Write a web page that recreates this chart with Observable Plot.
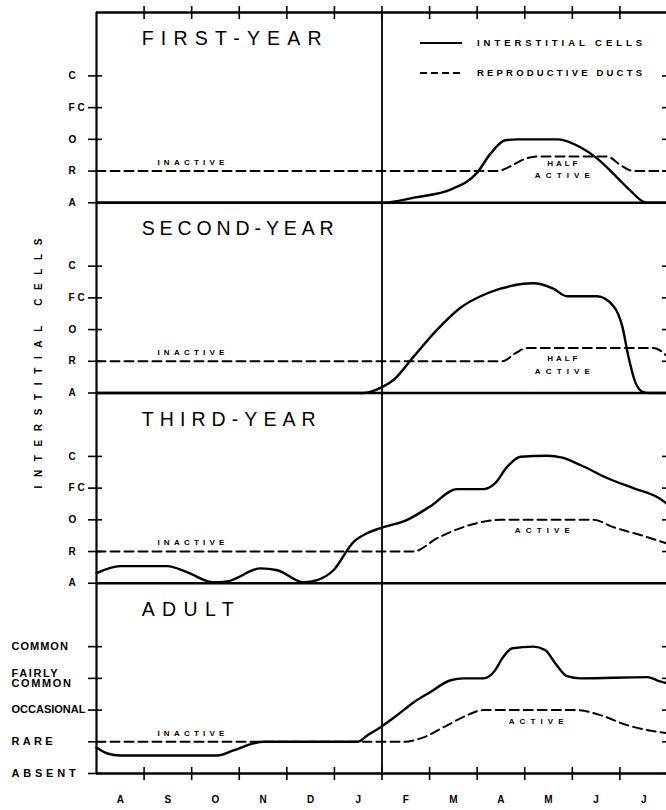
<!DOCTYPE html>
<html><head><meta charset="utf-8">
<script src="https://cdn.jsdelivr.net/npm/d3@7"></script>
<script src="https://cdn.jsdelivr.net/npm/@observablehq/plot@0.6"></script>
<style>
html,body{margin:0;padding:0;background:#fff;overflow:hidden}
#wrap{position:relative;width:666px;height:810px}
#legend{position:absolute;left:0;top:0}
</style></head><body>
<div id="wrap"></div>
<script>
// ---- data ----
const months = ["A","S","O","N","D","J","F","M","A","M","J","J"];
const panels = ["FIRST-YEAR","SECOND-YEAR","THIRD-YEAR","ADULT"];
const panelOffsets = [18, 12, 6, 0];
const levelCodes = ["A","R","O","FC","C"];
const adultLevelLabels = ["ABSENT","RARE","OCCASIONAL","FAIRLY\nCOMMON","COMMON"];
const legendLabels = ["INTERSTITIAL CELLS","REPRODUCTIVE DUCTS"];
const axisTitle = "INTERSTITIAL CELLS";

// [month since 1 Aug, level 0=absent..4=common]
const firstYearCells = [[0,0],[6,0],[6.67,0.16],[7.48,0.44],[8.0,0.95],[8.28,1.55],[8.59,1.97],[8.85,2],[9.7,2],[10.17,1.75],[10.52,1.4],[10.86,0.92],[11.22,0.38],[11.5,0.03],[11.62,0],[12,0]];
const firstYearDucts = [[0,1],[8.42,1],[8.7,1.15],[9.0,1.38],[9.26,1.46],[10.73,1.46],[11.0,1.2],[11.28,1],[12,1]];
const secondYearCells = [[0,0],[5.6,0],[5.97,0.16],[6.24,0.41],[6.66,1.14],[7.16,2.0],[7.65,2.69],[8.07,3.05],[8.49,3.29],[9.18,3.46],[9.6,3.29],[9.89,3.05],[10.52,3.05],[10.87,2.73],[11.05,2.1],[11.18,1.14],[11.32,0.35],[11.49,0.03],[11.62,0],[12,0]];
const secondYearDucts = [[0,1],[8.53,1],[8.8,1.25],[9.05,1.42],[11.7,1.42],[12,1.15]];
const thirdYearCells = [[0,0.32],[0.5,0.54],[1.49,0.54],[1.9,0.35],[2.46,0.03],[2.75,0.06],[3.45,0.47],[3.8,0.41],[4.35,0.03],[4.64,0.1],[4.98,0.41],[5.4,1.3],[5.69,1.58],[5.97,1.74],[6.53,2.0],[7.0,2.41],[7.58,2.97],[8.13,2.97],[8.38,3.16],[8.63,3.67],[8.91,3.99],[9.47,4.02],[9.79,3.96],[10.17,3.73],[10.73,3.32],[11.28,3.0],[11.78,2.72],[12,2.5]];
const thirdYearDucts = [[0,1],[6.66,1],[7.16,1.42],[7.71,1.77],[8.21,1.96],[8.5,2],[10.44,2],[10.86,1.77],[11.43,1.52],[12,1.25]];
const adultCells = [[0,0.82],[0.23,0.63],[0.5,0.57],[2.54,0.57],[2.88,0.73],[3.3,0.95],[3.51,1],[5.48,1],[5.69,1.2],[5.97,1.46],[6.32,1.84],[6.67,2.25],[7.02,2.57],[7.44,2.94],[7.72,3.0],[8.13,3.0],[8.38,3.26],[8.53,3.64],[8.74,3.95],[9.18,4.0],[9.43,3.89],[9.64,3.48],[9.89,3.07],[10.17,3.0],[11.58,3.04],[11.78,2.94],[12,2.84]];
const adultDucts = [[0,1],[6.45,1],[6.87,1.14],[7.37,1.52],[7.79,1.84],[8.13,2],[10.1,2],[10.59,1.84],[11.16,1.52],[12,1.27]];

// activity annotations: [panel index, text, month, level]
const activityNotes = [
  [0,"INACTIVE",1.28,1.28],[0,"HALF",9.79,1.23],[0,"ACTIVE",9.79,0.85],
  [1,"INACTIVE",1.28,1.29],[1,"HALF",9.79,1.1],[1,"ACTIVE",9.79,0.69],
  [2,"INACTIVE",1.28,1.29],[2,"ACTIVE",9.37,1.67],
  [3,"INACTIVE",1.28,1.26],[3,"ACTIVE",9.24,1.64]
];

// ---- build tables ----
const seriesList = [
  [0,"cells",firstYearCells],[0,"ducts",firstYearDucts],
  [1,"cells",secondYearCells],[1,"ducts",secondYearDucts],
  [2,"cells",thirdYearCells],[2,"ducts",thirdYearDucts],
  [3,"cells",adultCells],[3,"ducts",adultDucts]
];
const rows = seriesList.flatMap(([p, kind, pts]) =>
  pts.map(([m, l]) => ({panel: panels[p], kind, month: m, level: l + panelOffsets[p]})));
const levels = [0,1,2,3,4];
const tickVals = panelOffsets.flatMap(o => levels.map(l => l + o));
const codeLabels = panelOffsets.slice(0,3).flatMap(o => levels.map(l => ({y: l + o, text: levelCodes[l]})));
const adultLabels = levels.map(l => ({y: l + panelOffsets[3], text: adultLevelLabels[l]}));
const notes = activityNotes.map(([p, t, m, l]) => ({text: t, month: m, level: l + panelOffsets[p]}));
const monthTicks = d3.range(1, 12);

// ---- styling ----
const font = "Liberation Sans, Arial, Helvetica, sans-serif";
const titleWidth = {"FIRST-YEAR": 180, "SECOND-YEAR": 192, "THIRD-YEAR": 174, "ADULT": 92};
const noteWidth = {"INACTIVE": 67, "HALF": 30, "ACTIVE": 55};
const adultSpacing = {"RARE": 3.3, "ABSENT": 3.8, "FAIRLYCOMMON": 1.6, "COMMON": 1, "OCCASIONAL": 0};
const noteStyle = {x: "month", y: "level", text: "text", fontSize: 8, fontWeight: "bold"};

const chart = Plot.plot({
  width: 666, height: 810,
  marginLeft: 96, marginRight: 0, marginTop: 12, marginBottom: 37,
  x: {domain: [0, 12], range: [96, 667], axis: null},
  y: {domain: [0, 24], axis: null},
  style: {fontFamily: font, background: "#fff", color: "#000", overflow: "visible"},
  marks: [
    Plot.ruleY(panelOffsets.concat([24]), {strokeWidth: 2.4}),
    Plot.ruleX([0], {strokeWidth: 2.2}),
    Plot.ruleX([6], {strokeWidth: 1.8}),
    Plot.ruleX([12], {strokeWidth: 2.2}),
    Plot.axisY({anchor: "left", ticks: tickVals, tickSize: 14, dx: 6, tickFormat: () => "", label: null, strokeWidth: 1.6}),
    Plot.axisY({anchor: "right", ticks: tickVals, tickSize: 5, dx: -5, tickFormat: () => "", label: null, strokeWidth: 1.6}),
    Plot.axisX({anchor: "top", ticks: monthTicks, tickSize: 13, dy: 6, tickFormat: () => "", label: null, strokeWidth: 1.6}),
    Plot.axisX({anchor: "bottom", ticks: monthTicks, tickSize: 13, dy: -6, tickFormat: () => "", label: null, strokeWidth: 1.6}),
    Plot.line(rows.filter(d => d.kind === "ducts"), {x: "month", y: "level", z: "panel", curve: "monotone-x", strokeWidth: 2, strokeDasharray: "9,5"}),
    Plot.line(rows.filter(d => d.kind === "cells"), {x: "month", y: "level", z: "panel", curve: "monotone-x", strokeWidth: 2.4, strokeLinejoin: "round"}),
    Plot.text(panels, {x: 0.95, y: (d, i) => panelOffsets[i] + 5.17, text: d => d, textAnchor: "start", fontSize: 19.5}),
    Plot.text(codeLabels, {y: "y", text: "text", frameAnchor: "left", dx: -28, textAnchor: "start", fontSize: 10, fontWeight: "bold"}),
    Plot.text(adultLabels, {y: "y", text: "text", frameAnchor: "left", dx: -85, textAnchor: "start", fontSize: 11, fontWeight: "bold", lineHeight: 0.95}),
    Plot.text(months, {x: (d, i) => i + 0.5, text: d => d, frameAnchor: "bottom", dy: 29, fontSize: 10, fontWeight: "bold"}),
    Plot.text(notes.filter(d => d.text === "INACTIVE"), {...noteStyle, textAnchor: "start"}),
    Plot.text(notes.filter(d => d.text !== "INACTIVE"), {...noteStyle, textAnchor: "middle"}),
    Plot.text([axisTitle], {y: 12.93, text: d => d, frameAnchor: "left", dx: -58, rotate: -90, textAnchor: "middle", fontSize: 10, fontWeight: "bold"})
  ]
});

const wrap = document.getElementById("wrap");
wrap.appendChild(chart);

// letter-spaced lettering
d3.select(chart).selectAll("text").each(function() {
  const el = d3.select(this);
  const t = this.textContent;
  if (titleWidth[t] != null) {
    el.attr("textLength", titleWidth[t]).attr("lengthAdjust", "spacing");
  } else if (noteWidth[t] != null) {
    el.attr("textLength", noteWidth[t]).attr("lengthAdjust", "spacing");
  } else if (t === axisTitle) {
    el.attr("textLength", 250).attr("lengthAdjust", "spacing");
  } else if (t === "FC") {
    el.attr("letter-spacing", 3);
  } else if (adultSpacing[t] != null) {
    el.attr("letter-spacing", adultSpacing[t]);
  }
});

// legend overlay
const lg = d3.select(wrap).append("svg").attr("id", "legend").attr("width", 666).attr("height", 100);
const ly = [43, 73];
legendLabels.forEach((t, i) => {
  lg.append("line").attr("x1", 420).attr("x2", 462).attr("y1", ly[i]).attr("y2", ly[i])
    .attr("stroke", "#000").attr("stroke-width", i ? 2 : 2.2).attr("stroke-dasharray", i ? "7,4" : null);
  lg.append("text").attr("x", 477).attr("y", ly[i]).attr("dy", "0.35em")
    .attr("font-family", font).attr("font-weight", "bold").attr("font-size", 9.5)
    .attr("textLength", 165).attr("lengthAdjust", "spacing").text(t);
});
</script>
</body></html>
